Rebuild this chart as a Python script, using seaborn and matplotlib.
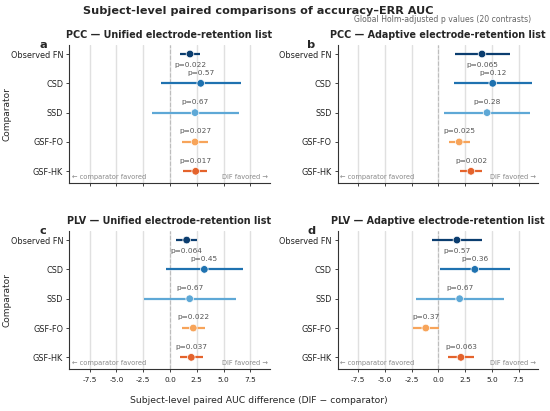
import numpy as np
import pandas as pd
import seaborn as sns
import matplotlib.pyplot as plt

comparators = ['Observed FN', 'CSD', 'SSD', 'GSF-FO', 'GSF-HK']
colors = ['#0b3d6f', '#1f72b0', '#5ea8d6', '#f7a45a', '#e4632c']

titles = ['PCC — Unified electrode-retention list',
          'PCC — Adaptive electrode-retention list',
          'PLV — Unified electrode-retention list',
          'PLV — Adaptive electrode-retention list']
letters = ['a', 'b', 'c', 'd']

# point estimate, CI low, CI high, Holm p
est = [[1.87, 2.87, 2.34, 2.34, 2.40],
       [4.08, 5.08, 4.55, 1.95, 3.05],
       [1.56, 3.21, 1.84, 2.18, 1.99],
       [1.74, 3.41, 1.99, -1.17, 2.11]]
lo = [[0.96, -0.87, -1.70, 1.10, 1.25],
      [1.54, 1.48, 0.50, 0.97, 2.04],
      [0.56, -0.40, -2.43, 1.09, 0.90],
      [-0.63, 0.16, -2.05, -2.34, 0.88]]
hi = [[2.83, 6.60, 6.40, 3.55, 3.50],
      [6.68, 8.72, 8.53, 2.95, 4.11],
      [2.49, 6.82, 6.14, 3.27, 3.08],
      [4.10, 6.66, 6.09, 0.03, 3.31]]
pvals = [['0.022', '0.57', '0.67', '0.027', '0.017'],
         ['0.065', '0.12', '0.28', '0.025', '0.002'],
         ['0.064', '0.45', '0.67', '0.022', '0.037'],
         ['0.57', '0.36', '0.67', '0.37', '0.063']]

sns.set_style('ticks')
plt.rcParams['font.family'] = ['DejaVu Sans']
plt.rcParams['axes.unicode_minus'] = False

fig, axes = plt.subplots(2, 2, figsize=(5.5, 4.11), dpi=100, sharex=True)
fig.subplots_adjust(left=0.126, right=0.978, top=0.89, bottom=0.102,
                    wspace=0.34, hspace=0.35)

for k, ax in enumerate(axes.flat):
    df = pd.DataFrame({'comp': comparators, 'est': est[k], 'lo': lo[k],
                       'hi': hi[k], 'p': pvals[k]})
    ax.set_xlim(-9.4, 9.3)
    ax.set_xticks([-7.5, -5, -2.5, 0, 2.5, 5, 7.5])
    ax.grid(axis='x', color='#e0e0e0', lw=1.0, zorder=0)
    ax.axvline(0, color='#bdbdbd', lw=0.8, ls='--', zorder=1)
    for i, row in df.iterrows():
        ax.hlines(i, row['lo'], row['hi'], color=colors[i], lw=1.6, zorder=2)
        dy = 0.36 if i == 0 else -0.36
        ax.text(row['est'], i + dy, 'p=' + row['p'], ha='center', va='center',
                fontsize=5.3, color='#555555')
    sns.scatterplot(data=df, x='est', y=np.arange(5), hue='comp',
                    palette=colors, s=30, edgecolor='white', linewidth=0.5,
                    legend=False, ax=ax, zorder=3)
    ax.set_ylim(4.4, -0.3)
    ax.set_yticks(range(5))
    ax.set_yticklabels(comparators, fontsize=5.9)
    ax.tick_params(axis='x', labelsize=5.3, length=2.5, width=0.6, colors='#222222')
    ax.tick_params(axis='y', length=2.5, width=0.6, colors='#222222', pad=2)
    sns.despine(ax=ax)
    for s in ['left', 'bottom']:
        ax.spines[s].set_linewidth(0.8)
        ax.spines[s].set_color('#333333')
    ax.set_title(titles[k], fontsize=6.9, fontweight='bold', pad=5.5)
    ax.set_xlabel('')
    ax.set_ylabel('Comparator' if k % 2 == 0 else '', fontsize=6.5)
    ax.yaxis.set_label_coords(-0.29, 0.5)
    ax.text(-0.13, 1.0, letters[k], transform=ax.transAxes, fontsize=8.2,
            fontweight='bold', ha='center', va='center')
    ax.text(0.012, 0.02, '← comparator favored', transform=ax.transAxes,
            fontsize=4.8, color='#888888', ha='left', va='bottom')
    ax.text(0.99, 0.02, 'DIF favored →', transform=ax.transAxes,
            fontsize=4.8, color='#888888', ha='right', va='bottom')

fig.suptitle('Subject-level paired comparisons of accuracy–ERR AUC',
             fontsize=8.1, fontweight='bold', x=0.47, y=0.985)
fig.text(0.965, 0.952, 'Global Holm-adjusted p values (20 contrasts)',
         fontsize=5.6, color='#666666', ha='right', va='center')
fig.text(0.47, 0.025, 'Subject-level paired AUC difference (DIF − comparator)',
         fontsize=6.7, ha='center', va='center')

fig.savefig('out.png', dpi=100)
